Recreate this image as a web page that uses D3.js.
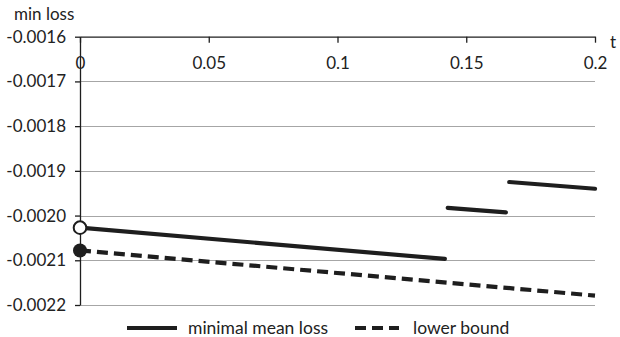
<!DOCTYPE html>
<html>
<head>
<meta charset="utf-8">
<script src="https://cdn.jsdelivr.net/npm/d3@7"></script>
<style>
  html, body { margin: 0; padding: 0; background: #fff; }
  svg { display: block; }
  text { font-family: Lato, "Open Sans", sans-serif; fill: #222; }
</style>
</head>
<body>
<svg id="chart" width="620" height="337"></svg>
<script>
// ---- data ----
const xTicks = [0, 0.05, 0.1, 0.15, 0.2];
const xTickLabels = ["0", "0.05", "0.1", "0.15", "0.2"];
const yTicks = [-0.0016, -0.0017, -0.0018, -0.0019, -0.0020, -0.0021, -0.0022];
const yTickLabels = ["-0.0016", "-0.0017", "-0.0018", "-0.0019", "-0.0020", "-0.0021", "-0.0022"];
// minimal mean loss: three separate segments [t, value]
const meanLossSeg1 = [[0, -0.002027], [0.1417, -0.002097]];
const meanLossSeg2 = [[0.1428, -0.001983], [0.1654, -0.001993]];
const meanLossSeg3 = [[0.1667, -0.001925], [0.2, -0.001940]];
// lower bound
const lowerBound = [[0, -0.002078], [0.2, -0.002179]];
const openPoint = [0, -0.002027];
const filledPoint = [0, -0.002078];
const seriesNames = ["minimal mean loss", "lower bound"];

// ---- drawing ----
const svg = d3.select("#chart");
const x = d3.scaleLinear().domain([0, 0.2]).range([80, 595]);
const y = d3.scaleLinear().domain([-0.0016, -0.0022]).range([36.7, 305]);
const ink = "#1e1e1e";

// gridlines
svg.append("g").selectAll("line")
  .data(yTicks.slice(1)).join("line")
  .attr("x1", x(0)).attr("x2", x(0.2))
  .attr("y1", d => Math.round(y(d)) + 0.5).attr("y2", d => Math.round(y(d)) + 0.5)
  .attr("stroke", "#a6a6a6").attr("stroke-width", 1.2);

// y axis
const yAxis = d3.axisLeft(y).tickValues(yTicks)
  .tickFormat((d, i) => yTickLabels[i]).tickSizeInner(5).tickSizeOuter(0).tickPadding(9);
const gy = svg.append("g").attr("transform", `translate(${x(0)},0)`).call(yAxis);
gy.select(".domain").attr("stroke", ink).attr("stroke-width", 1.3);
gy.selectAll(".tick line").attr("stroke", ink).attr("stroke-width", 1.3);
gy.selectAll(".tick text").style("font-size", "17px").style("font-family", "Lato, sans-serif").attr("fill", "#222");

// x axis (at top, ticks pointing down, labels below)
const xAxis = d3.axisBottom(x).tickValues(xTicks)
  .tickFormat((d, i) => xTickLabels[i]).tickSizeInner(6).tickSizeOuter(0).tickPadding(14);
const gx = svg.append("g").attr("transform", `translate(0,${y(-0.0016)})`).call(xAxis);
gx.select(".domain").attr("stroke", ink).attr("stroke-width", 1.3);
gx.selectAll(".tick line").attr("stroke", ink).attr("stroke-width", 1.3);
gx.selectAll(".tick text").style("font-size", "17px").style("font-family", "Lato, sans-serif").attr("fill", "#222");

// axis titles
svg.append("text").attr("x", 14).attr("y", 20).style("font-size", "17px").text("min loss");
svg.append("text").attr("x", 610).attr("y", 48).style("font-size", "17px").text("t");

const line = d3.line().x(d => x(d[0])).y(d => y(d[1]));

// lower bound (dashed)
svg.append("path").datum(lowerBound).attr("d", line)
  .attr("fill", "none").attr("stroke", ink).attr("stroke-width", 4.2)
  .attr("stroke-dasharray", "11,6");

// mean loss segments
[meanLossSeg1, meanLossSeg2, meanLossSeg3].forEach(seg => {
  svg.append("path").datum(seg).attr("d", line)
    .attr("fill", "none").attr("stroke", ink).attr("stroke-width", 4.2)
    .attr("stroke-linecap", "round");
});

// endpoint markers
svg.append("circle").attr("cx", x(filledPoint[0])).attr("cy", y(filledPoint[1]))
  .attr("r", 7).attr("fill", ink);
svg.append("circle").attr("cx", x(openPoint[0])).attr("cy", y(openPoint[1]))
  .attr("r", 6.3).attr("fill", "#fff").attr("stroke", ink).attr("stroke-width", 2);

// legend
const legY = 328;
svg.append("line").attr("x1", 127).attr("x2", 177).attr("y1", legY).attr("y2", legY)
  .attr("stroke", ink).attr("stroke-width", 4.2);
svg.append("text").attr("x", 188).attr("y", legY + 6).style("font-size", "17.5px").text(seriesNames[0]);
svg.append("line").attr("x1", 355).attr("x2", 399).attr("y1", legY).attr("y2", legY)
  .attr("stroke", ink).attr("stroke-width", 4.2).attr("stroke-dasharray", "11,6");
svg.append("text").attr("x", 413).attr("y", legY + 6).style("font-size", "17.5px").text(seriesNames[1]);
</script>
</body>
</html>
